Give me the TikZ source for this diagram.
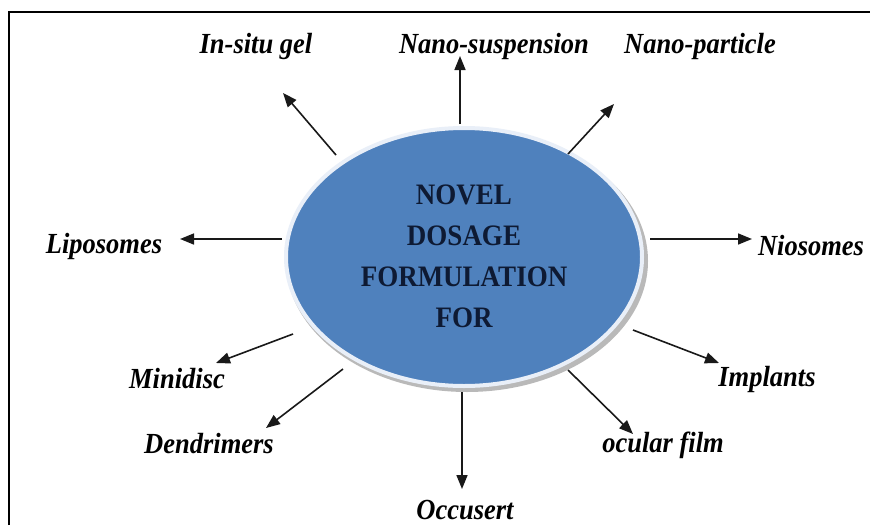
\documentclass[tikz,border=0pt]{standalone}
\usepackage{fontspec}
\setmainfont{Liberation Serif}
\usetikzlibrary{arrows.meta,shapes.geometric}
\definecolor{hubblue}{HTML}{4F81BD}
\definecolor{hubrim}{HTML}{E9EFF8}
\definecolor{hubtext}{HTML}{0E1A33}
\newcommand\tall[1]{\scalebox{1}[1.1]{#1}}
\begin{document}
\begin{tikzpicture}[x=1pt,y=-1pt,
  lbl/.style={inner sep=0pt,font=\fontsize{26.5}{30}\selectfont\bfseries\itshape},
  arr/.style={-{Triangle[length=14pt,width=11pt]},line width=1.6pt,black!90},
  frameline/.style={line width=2.6pt,black}]
\useasboundingbox (0,0) rectangle (870,525);
\fill[white] (0,0) rectangle (870,525);
\draw[frameline] (9,525) -- (9,12) -- (870,12);

% central ellipse with its drop shadow and light rim
\fill[gray!55] (467,261) ellipse [x radius=181, y radius=131];
\node[ellipse,fill=hubblue,draw=hubrim,line width=4pt,minimum width=356,minimum height=258,inner sep=0pt] (hub) at (464,257) {};
\node[align=center,text=hubtext,font=\fontsize{27}{41}\selectfont\bfseries] (hubtxt) at (464,256)
  {\tall{NOVEL}\\ \tall{DOSAGE}\\ \tall{FORMULATION}\\ \tall{FOR}};

% labels
\node[lbl] (insitu)  at (256,46)  {\tall{In-situ gel}};
\node[lbl] (nsusp)   at (494,46)  {\tall{Nano-suspension}};
\node[lbl] (npart)   at (700,46)  {\tall{Nano-particle}};
\node[lbl] (lipo)    at (104,246) {\tall{Liposomes}};
\node[lbl] (nio)     at (811,246) {\tall{Niosomes}};
\node[lbl] (mini)    at (177,379) {\tall{Minidisc}};
\node[lbl] (dend)    at (209,444) {\tall{Dendrimers}};
\node[lbl] (occ)     at (465,510) {\tall{Occusert}};
\node[lbl] (impl)    at (767,379) {\tall{Implants}};
\node[lbl] (ocf)     at (663,445) {\tall{ocular film}};

% arrow end points
\coordinate (s1) at (336,155);  \coordinate (t1) at (283,93);
\coordinate (s2) at (460,124);  \coordinate (t2) at (460,56);
\coordinate (s3) at (568,154);  \coordinate (t3) at (614,104);
\coordinate (s4) at (282,239);  \coordinate (t4) at (180,239);
\coordinate (s5) at (650,239);  \coordinate (t5) at (752,239);
\coordinate (s6) at (293,334);  \coordinate (t6) at (216,363);
\coordinate (s7) at (343,369);  \coordinate (t7) at (266,428);
\coordinate (s8) at (462,392);  \coordinate (t8) at (462,489);
\coordinate (s9) at (633,330);  \coordinate (t9) at (719,363);
\coordinate (s10) at (568,370); \coordinate (t10) at (633,434);

\foreach \i in {1,...,10} \draw[arr] (s\i) -- (t\i);
\end{tikzpicture}
\end{document}
